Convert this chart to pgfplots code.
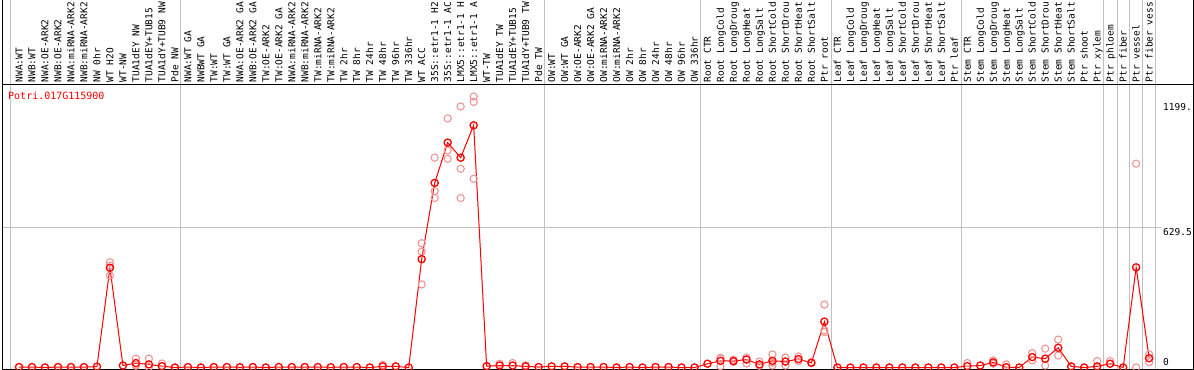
\documentclass[border=0pt]{standalone}
\usepackage{pgfplots}
\pgfplotsset{compat=1.18}
\usepackage{pgfplotstable}
\usepackage{fontspec}
\newfontfamily\monof{DejaVu Sans Mono}
\definecolor{ptred}{RGB}{255,0,0}
\definecolor{ptpink}{RGB}{238,150,150}
\definecolor{sepgray}{RGB}{192,192,192}

\pgfplotstableread{
x y
0 2
1 2
2 0
3 2
4 2
5 2
6 4
7 450
8 9
9 20
10 14
11 6
12 0
13 2
14 0
15 2
16 2
17 1
18 2
19 0
20 2
21 2
22 2
23 2
24 1
25 2
26 2
27 0
28 5
29 5
30 0
31 489
32 833
33 1015
34 947
35 1093
36 6
37 9
38 9
39 5
40 2
41 5
42 5
43 2
44 2
45 2
46 0
47 2
48 0
49 2
50 2
51 0
52 0
53 17
54 30
55 29
56 36
57 14
58 30
59 27
60 38
61 21
62 207
63 0
64 0
65 0
66 0
67 0
68 0
69 0
70 0
71 0
72 0
73 6
74 9
75 23
76 1
77 0
78 47
79 40
80 89
81 5
82 0
83 5
84 17
85 0
86 452
87 42
}\means

\pgfplotstableread{
x y
7 475
7 460
7 415
9 40
9 12
9 8
10 40
10 2
11 18
28 12
31 561
31 523
31 375
32 947
32 796
32 765
33 1124
33 980
33 942
34 1178
34 897
34 765
35 1223
35 1199
35 852
37 17
38 20
39 10
54 44
54 40
54 6
55 35
55 25
56 45
56 18
57 27
57 8
58 59
58 22
58 9
59 45
59 27
59 9
60 50
60 29
61 25
62 284
62 168
62 160
73 20
75 32
75 17
76 14
78 65
78 32
79 85
79 9
80 126
80 54
83 29
84 29
86 920
86 0
87 59
87 24
}\reps

\begin{document}
\begin{tikzpicture}
\path[use as bounding box] (0,0) rectangle (1194bp,370bp);
\foreach \s in {10,180.5,544,700,831,961,1103,1117,1129,1142.5,1155}{
  \draw[sepgray, line width=1bp] (\s bp,0.5bp) -- (\s bp,370bp);
}
\draw[sepgray, line width=1bp] (2bp,142bp) -- (1161bp,142bp);
\begin{axis}[
  at={(2bp,0.5bp)}, anchor=south west,
  scale only axis,
  width=1191bp, height=284.5bp,
  xmin=-1.309, xmax=90.38,
  ymin=-9, ymax=1275,
  axis line style={black, line width=1bp},
  major tick length=0pt,
  ytick=\empty,
  xtick={0,...,87},
  xticklabel pos=upper,
  xticklabel style={rotate=90, anchor=west, inner sep=0pt, xshift=2.5bp,
     font=\monof\fontsize{9.5bp}{10bp}\selectfont, text height=7bp, text depth=0pt},
  xticklabels={NWA:WT,NWB:WT,NWA:OE-ARK2,NWB:OE-ARK2,NWA:miRNA-ARK2,NWB:miRNA-ARK2,NW 0hr,WT H2O,WT-NW,TUA1dEY NW,TUA1dEY+TUB15,TUA1dY+TUB9 NW,Pde NW,
  NWA:WT GA,NWBWT GA,TW:WT,TW:WT GA,NWA:OE-ARK2 GA,NWB:OE-ARK2 GA,TW:OE-ARK2,TW:OE-ARK2 GA,NWA:miRNA-ARK2,NWB:miRNA-ARK2,TW:miRNA-ARK2,TW:miRNA-ARK2,TW 2hr,TW 8hr,TW 24hr,TW 48hr,TW 96hr,TW 336hr,WT ACC,35S::etr1-1 H2,35S::etr1-1 AC,LMX5::etr1-1 H,LMX5::etr1-1 A,WT-TW,TUA1dEY TW,TUA1dEY+TUB15,TUA1dY+TUB9 TW,Pde TW,
  OW:WT,OW:WT GA,OW:OE-ARK2,OW:OE-ARK2 GA,OW:miRNA-ARK2,OW:miRNA-ARK2,OW 2hr,OW 8hr,OW 24hr,OW 48hr,OW 96hr,OW 336hr,
  Root CTR,Root LongCold,Root LongDroug,Root LongHeat,Root LongSalt,Root ShortCold,Root ShortDrou,Root ShortHeat,Root ShortSalt,Ptr root,
  Leaf CTR,Leaf LongCold,Leaf LongDroug,Leaf LongHeat,Leaf LongSalt,Leaf ShortCold,Leaf ShortDrou,Leaf ShortHeat,Leaf ShortSalt,Ptr leaf,
  Stem CTR,Stem LongCold,Stem LongDroug,Stem LongHeat,Stem LongSalt,Stem ShortCold,Stem ShortDrou,Stem ShortHeat,Stem ShortSalt,Ptr shoot,Ptr xylem,
  Ptr phloem,Ptr fiber,Ptr vessel,Ptr fiber vess},
]
\addplot[only marks, mark=o, mark size=3.6bp, ptpink, line width=1.1bp] table[x=x,y=y]{\reps};
\addplot[ptred, line width=1bp, mark=o, mark size=3.6bp, mark options={line width=1.3bp}] table[x=x,y=y]{\means};
\end{axis}
\draw[black, line width=1bp] (2bp,285bp) -- (2bp,370bp);
\draw[black, line width=1bp] (1193bp,285bp) -- (1193bp,370bp);
\node[anchor=base west, inner sep=0pt, text=ptred, font=\monof\fontsize{10bp}{11bp}\selectfont] at (8bp,270bp) {Potri.017G115900};
\node[anchor=north west, inner sep=0pt, font=\monof\fontsize{9.5bp}{10bp}\selectfont] at (1163bp,267bp) {1199.};
\node[anchor=north west, inner sep=0pt, font=\monof\fontsize{9.5bp}{10bp}\selectfont] at (1163bp,141.5bp) {629.5};
\node[anchor=north west, inner sep=0pt, font=\monof\fontsize{9.5bp}{10bp}\selectfont] at (1163bp,12bp) {0};
\end{tikzpicture}
\end{document}
